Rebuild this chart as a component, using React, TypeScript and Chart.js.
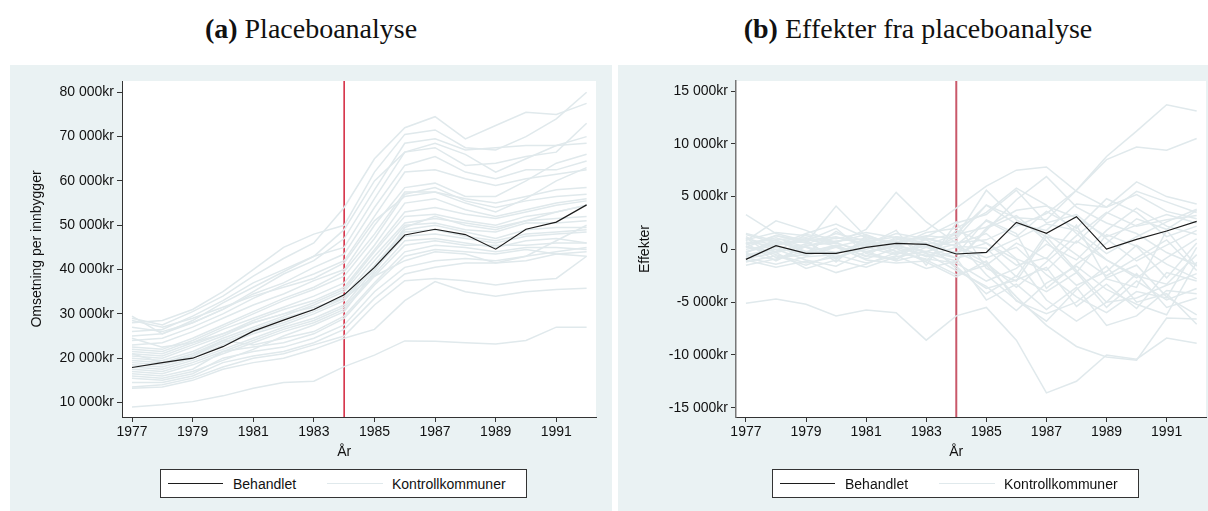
import React, { useEffect, useRef } from "react";
import { Chart, registerables } from "chart.js";

Chart.register(...registerables);

const FONT = '"Liberation Sans", Arial, Helvetica, sans-serif';

const years = [1977, 1978, 1979, 1980, 1981, 1982, 1983, 1984, 1985, 1986, 1987, 1988, 1989, 1990, 1991, 1992];
const xTicks = [1977, 1979, 1981, 1983, 1985, 1987, 1989, 1991];
const xTickLabels = ["1977", "1979", "1981", "1983", "1985", "1987", "1989", "1991"];
const treatmentYear = 1984;

const leftYTicks = [10000, 20000, 30000, 40000, 50000, 60000, 70000, 80000];
const leftYTickLabels = ["10 000kr", "20 000kr", "30 000kr", "40 000kr", "50 000kr", "60 000kr", "70 000kr", "80 000kr"];
const rightYTicks = [-15000, -10000, -5000, 0, 5000, 10000, 15000];
const rightYTickLabels = ["-15 000kr", "-10 000kr", "-5 000kr", "0", "5 000kr", "10 000kr", "15 000kr"];

const leftTreated = [17900, 19000, 20000, 22600, 26100, 28600, 31000, 34300, 40500, 47800, 49100, 47900, 44600, 49100, 50700, 54600];

const leftControls = [
  [29000, 27500, 30500, 34000, 38500, 42500, 46000, 54000, 65000, 72000, 74500, 69500, 72500, 75500, 75000, 77500],
  [28000, 28500, 31000, 35000, 40000, 45000, 48000, 50000, 62000, 70500, 71500, 67500, 67000, 70000, 74000, 80000],
  [27000, 26000, 28000, 31000, 35000, 39000, 42000, 47000, 58000, 68500, 69500, 67000, 67500, 68000, 68000, 68500],
  [26000, 26500, 29500, 33000, 37000, 40000, 43000, 45000, 56000, 66500, 67500, 63500, 64000, 65500, 66500, 73000],
  [25000, 25500, 28000, 31000, 34500, 37000, 40500, 43500, 54000, 63500, 65500, 62000, 60500, 62500, 62500, 64500],
  [24000, 24500, 27000, 30000, 33500, 36500, 39000, 42000, 52000, 62000, 62500, 60500, 59000, 60500, 61500, 62500],
  [23000, 23500, 26000, 29000, 32000, 34500, 37500, 40000, 50000, 58500, 59500, 56500, 56500, 60000, 64000, 66000],
  [22500, 22000, 24500, 27500, 30500, 33500, 36000, 39500, 48000, 57500, 57500, 56000, 55000, 56500, 58000, 58500],
  [22000, 21500, 24000, 27000, 30000, 33000, 35500, 38500, 47000, 57000, 58500, 55500, 54000, 55500, 56500, 57000],
  [21500, 21000, 23500, 26500, 29000, 31500, 34000, 37000, 45500, 55000, 56000, 53500, 52000, 53500, 55000, 56000],
  [21000, 20500, 23000, 25500, 28500, 31000, 33000, 36000, 44500, 53000, 54000, 52500, 51500, 53000, 54500, 55500],
  [20500, 20000, 22500, 25000, 28000, 30000, 32500, 35500, 44000, 52000, 52500, 51000, 50000, 52000, 53000, 54500],
  [20000, 19500, 21500, 24500, 27000, 29500, 32000, 35000, 43000, 50500, 51500, 50500, 49500, 51000, 51500, 52000],
  [19500, 19000, 21000, 24000, 26500, 29000, 31000, 34000, 42000, 50000, 50500, 49000, 48500, 50500, 50500, 51000],
  [19000, 18500, 20500, 23500, 26000, 28000, 30500, 33500, 41000, 49000, 50000, 48500, 47000, 49000, 49500, 49500],
  [18500, 18000, 20000, 23000, 25500, 27500, 30000, 33000, 40500, 48500, 49000, 47500, 46500, 48000, 48500, 49000],
  [18000, 17500, 19500, 22000, 24500, 27000, 29000, 32000, 40000, 47500, 48000, 47000, 46000, 47500, 48000, 48500],
  [17500, 17000, 19000, 21500, 24000, 26500, 28500, 31500, 39000, 46500, 47000, 46000, 45000, 46500, 47000, 46000],
  [17000, 16500, 18500, 21000, 23500, 26000, 28000, 31000, 38500, 45500, 46500, 45500, 45500, 45500, 46000, 46000],
  [21000, 19000, 20500, 24000, 23000, 24500, 26000, 29500, 37000, 44000, 45500, 45000, 44000, 45000, 45000, 44500],
  [16500, 16000, 17500, 21500, 22500, 23500, 25500, 29000, 36500, 43000, 44500, 44000, 43500, 44500, 43500, 43000],
  [15500, 15000, 16500, 20000, 21500, 22500, 24500, 27500, 35000, 40500, 42000, 42500, 42000, 43000, 44000, 45000],
  [14500, 14500, 16000, 19000, 20500, 21500, 23500, 26500, 33500, 39000, 40500, 41500, 41500, 42000, 43500, 44000],
  [13500, 14000, 15500, 18000, 20000, 21000, 23000, 25000, 32000, 37500, 38000, 37500, 36500, 37500, 38000, 43000],
  [13200, 13500, 15000, 17500, 19000, 20000, 22000, 24500, 26500, 33000, 37300, 35000, 34000, 35000, 35500, 35800],
  [9000, 9500, 10200, 11500, 13200, 14500, 14800, 18100, 20700, 23900, 23800, 23500, 23200, 24000, 27000, 27000],
  [29500, 25500, 28500, 32500, 36000, 39500, 43000, 49000, 60000, 66500, 68500, 66000, 62000, 65000, 68000, 70000],
  [28500, 27000, 29000, 31500, 34000, 36000, 38000, 41500, 51000, 56500, 57500, 55000, 53000, 56000, 60000, 63000],
  [24500, 22500, 23500, 25500, 28000, 30000, 31500, 33500, 38500, 42000, 44000, 43500, 41500, 43000, 46500, 50000],
  [16000, 15500, 17000, 19500, 22000, 25000, 27500, 30500, 39500, 49500, 52000, 50000, 49000, 51000, 53000, 54500],
];

const rightTreated = [-950, 350, -380, -380, 190, 570, 470, -440, -280, 2560, 1520, 3100, 30, 950, 1740, 2650];

const rightControls = [
  [-5100, -4700, -5200, -6300, -5750, -6000, -8600, -6300, -5500, -8600, -13600, -12500, -10000, -10400, -8400, -8900],
  [3300, 1500, 800, 1200, 400, 900, 1800, 3900, 6000, 7500, 7800, 5500, 4000, 5200, 3600, 2900],
  [800, 2700, 1800, 600, 1900, 5400, 2600, 600, 900, 2200, 3400, 5600, 8800, 11200, 13700, 13100],
  [400, 1300, 600, 4100, 1200, 300, 900, 1500, 4200, 3000, 2800, 5600, 8500, 9700, 9400, 10500],
  [-1200, -600, -1500, -400, 800, -200, -1000, -2400, -1500, -4500, -7200, -9200, -10200, -10500, -6500, -6600],
  [1000, 400, 1500, 2400, 1100, 600, 1200, 2600, -1800, -3000, 1200, -2000, -5000, -4600, -3400, -2300],
  [-300, 700, 200, -900, 300, 1000, 500, -1600, -4200, -2500, -4000, -2200, -5500, -3000, -4800, -3700],
  [600, 900, 1100, 600, -200, 400, -300, 1200, 5600, 2800, 1200, 600, 3400, 5500, 4500, 3500],
  [-800, -1400, -700, -500, -1300, -600, -1800, -1100, 1800, 4700, 6900, 4000, 2500, 1500, -300, -1500],
  [200, -200, 500, 1500, 800, 200, -600, 200, -1300, -3600, -1200, 1300, 3500, 2200, 2800, 3200],
  [1500, 800, -300, 400, -700, 1200, 900, -500, 2800, 1500, -3700, -1400, 600, 2900, 1900, 3700],
  [-500, 0, -1000, -1600, -200, -1100, -400, -2000, -3500, -5800, -3200, -1600, -3800, -5200, -6200, -1200],
  [900, 1600, 1300, 700, 1400, 300, 1600, 2000, 3500, 5800, 4200, 1500, -1000, -2500, -3300, -500],
  [-1500, -900, -200, 300, -600, -900, 200, -800, -300, 1000, 2400, 1800, -400, 1200, 2600, 3800],
  [300, -500, -1300, -700, 0, 800, 200, 800, -2400, -4800, -6800, -3800, -1600, -5000, -4200, -7100],
  [-200, 400, 900, -1200, 1300, 500, -700, -300, 600, -1500, -800, -3400, -2100, 400, -1400, -2800],
  [1200, -300, 300, 1100, 600, -400, 400, 1400, 2100, 3700, 4100, 3000, 1200, 2300, 3300, 2500],
  [-700, 200, -600, 200, -900, 100, -1200, -2600, -1100, -4900, -6100, -5000, -2700, -1500, -4500, -6200],
  [500, 1100, 200, -300, 500, 1500, 1000, 300, -800, 200, -2400, -4500, -6000, -4000, -4600, 200],
  [-1000, -1700, -1100, -2200, -1400, -300, -900, -1300, -3000, -1800, 500, -1000, 1800, 3900, 2200, 1400],
  [0, 500, 1000, 300, 900, 700, 1300, 1000, 4200, 2400, 1800, 4300, 4000, 6400, 5000, 4300],
  [700, 300, -400, 1700, 200, -500, 600, -1800, -3700, -2900, -1700, -5400, -3300, -5600, -2200, -3000],
  [-400, -1000, 400, 600, -300, 300, -200, 500, 1500, -900, -2000, 800, -1000, -2700, -800, 1000],
  [1400, 600, 700, -800, 400, 1800, -1500, 2500, 3300, 5600, 2500, 3300, 1000, -1100, 400, 1800],
  [-900, -300, -1800, -1000, -1700, -700, -200, -800, -4800, -3300, -5700, -3600, -7200, -6300, -3900, -4200],
  [200, 1300, 800, 2000, -400, -1000, 1100, 300, 100, -2600, 1500, -500, -2500, -800, 900, -2000],
  [-600, -200, 1400, 1000, 1600, 1100, -400, -1100, 2000, 3200, 800, -2200, 1400, 300, -2700, 600],
  [1100, -800, -500, 300, -1000, -1300, -1100, 1800, 600, -1000, -4800, -6800, -5000, -2300, -5500, -4600],
  [-300, 900, -200, -400, 700, 1200, 600, 400, 2700, 1200, 3600, 2000, 4800, 3500, 1200, 2200],
  [600, -1100, 300, 800, 1000, -200, 300, -300, -1500, 600, -900, 2300, -2800, -3600, 1800, -1600],
];

const CONTROL_COLOR = "#e0e9ec";
const TREATED_COLOR = "#1c1c1c";

const panelPlugin = {
  id: "panel",
  beforeDraw(chart: any, _args: any, opts: any) {
    const { ctx, chartArea: a, width, height } = chart;
    ctx.save();
    ctx.fillStyle = "#eaf2f3";
    ctx.fillRect(0, 0, width, height);
    ctx.fillStyle = "#ffffff";
    ctx.fillRect(a.left, a.top, a.right - a.left, a.bottom - a.top);
    ctx.restore();
  },
  beforeDatasetsDraw(chart: any, _args: any, opts: any) {
    const { ctx, chartArea: a } = chart;
    const x = chart.scales.x.getPixelForValue(opts.eventX);
    ctx.save();
    ctx.strokeStyle = opts.eventColor;
    ctx.lineWidth = opts.eventWidth;
    ctx.beginPath();
    ctx.moveTo(x, a.top);
    ctx.lineTo(x, a.bottom);
    ctx.stroke();
    ctx.restore();
  },
  afterDraw(chart: any, _args: any, opts: any) {
    const { ctx, chartArea: a } = chart;
    ctx.save();
    ctx.font = `14px ${FONT}`;
    ctx.fillStyle = "#111";
    ctx.textAlign = "center";
    ctx.textBaseline = "middle";
    ctx.fillText(opts.xTitle, chart.scales.x.getPixelForValue(opts.xTitleAt), opts.xTitleY);
    ctx.translate(opts.yTitleX, (a.top + a.bottom) / 2);
    ctx.rotate(-Math.PI / 2);
    ctx.fillText(opts.yTitle, 0, 0);
    ctx.restore();
  },
};

type PanelProps = {
  width: number;
  height: number;
  treated: number[];
  controls: number[][];
  yMin: number;
  yMax: number;
  yTicks: number[];
  yTickLabels: string[];
  yTitle: string;
  yAxisWidth: number;
  padRight: number;
  yBorderColor: string;
  yBorderWidth: number;
  eventColor: string;
  eventWidth: number;
};

function Panel(p: PanelProps) {
  const ref = useRef<HTMLCanvasElement | null>(null);
  useEffect(() => {
    if (!ref.current) return;
    const pts = (s: number[]) => s.map((v, i) => ({ x: years[i], y: v }));
    const datasets: any[] = [
      {
        label: "Behandlet",
        data: pts(p.treated),
        borderColor: TREATED_COLOR,
        backgroundColor: TREATED_COLOR,
        borderWidth: 1.2,
        pointRadius: 0,
        tension: 0,
      },
      ...p.controls.map((c) => ({
        label: "Kontrollkommuner",
        data: pts(c),
        borderColor: CONTROL_COLOR,
        backgroundColor: CONTROL_COLOR,
        borderWidth: 1.5,
        pointRadius: 0,
        tension: 0,
      })),
    ];
    const chart = new Chart(ref.current, {
      type: "line",
      data: { datasets },
      plugins: [panelPlugin as any],
      options: {
        animation: false,
        responsive: false,
        devicePixelRatio: 1,
        layout: { padding: { top: 16, right: p.padRight, bottom: 0, left: 0 } },
        plugins: {
          legend: { display: false },
          tooltip: { enabled: false },
          panel: {
            eventX: treatmentYear,
            eventColor: p.eventColor,
            eventWidth: p.eventWidth,
            xTitle: "År",
            xTitleAt: treatmentYear,
            xTitleY: 387,
            yTitle: p.yTitle,
            yTitleX: 27,
          },
        } as any,
        scales: {
          x: {
            type: "linear",
            min: 1976.67,
            max: 1992.31,
            afterBuildTicks: (s: any) => {
              s.ticks = xTicks.map((v) => ({ value: v }));
            },
            afterFit: (s: any) => {
              s.height = 94;
            },
            ticks: {
              autoSkip: false,
              maxRotation: 0,
              minRotation: 0,
              padding: 2,
              color: "#111",
              font: { size: 14, family: FONT },
              callback: (_v: any, i: number) => xTickLabels[i],
            },
            grid: { drawOnChartArea: false, drawTicks: true, tickLength: 5, color: "#333", tickWidth: 1 },
            border: { display: true, color: "#333", width: 1 },
          },
          y: {
            type: "linear",
            min: p.yMin,
            max: p.yMax,
            afterBuildTicks: (s: any) => {
              s.ticks = p.yTicks.map((v) => ({ value: v }));
            },
            afterFit: (s: any) => {
              s.width = p.yAxisWidth;
            },
            ticks: {
              autoSkip: false,
              padding: 3,
              color: "#111",
              font: { size: 14, family: FONT },
              callback: (_v: any, i: number) => p.yTickLabels[i],
            },
            grid: { drawOnChartArea: false, drawTicks: true, tickLength: 5, color: "#333", tickWidth: 1 },
            border: { display: true, color: p.yBorderColor, width: p.yBorderWidth },
          },
        },
      } as any,
    });
    return () => chart.destroy();
  }, []);
  return <canvas ref={ref} width={p.width} height={p.height} style={{ display: "block", width: p.width, height: p.height }} />;
}

function Legend({ left }: { left: number }) {
  const text: React.CSSProperties = {
    position: "absolute",
    top: 0,
    height: 27,
    lineHeight: "28px",
    fontFamily: FONT,
    fontSize: 14,
    color: "#111",
    whiteSpace: "nowrap",
  };
  return (
    <div
      style={{
        position: "absolute",
        left,
        top: 469,
        width: 367,
        height: 29,
        boxSizing: "border-box",
        border: "1px solid #333",
        background: "#fff",
      }}
    >
      <div style={{ position: "absolute", left: 6.5, top: 13, width: 55, borderTop: `1px solid ${TREATED_COLOR}` }} />
      <div style={{ ...text, left: 72 }}>Behandlet</div>
      <div style={{ position: "absolute", left: 165.5, top: 13, width: 56, borderTop: `1.5px solid ${CONTROL_COLOR}` }} />
      <div style={{ ...text, left: 231 }}>Kontrollkommuner</div>
    </div>
  );
}

const titleStyle: React.CSSProperties = {
  position: "absolute",
  top: 12,
  height: 34,
  lineHeight: "34px",
  textAlign: "center",
  fontFamily: '"Liberation Serif", "Times New Roman", serif',
  fontSize: 28,
  color: "#111",
  whiteSpace: "nowrap",
};

export default function App() {
  return (
    <div style={{ position: "absolute", left: 0, top: 0, width: 1208, height: 511, background: "#fff", overflow: "hidden" }}>
      <div style={{ ...titleStyle, left: 10, width: 602 }}>
        <span style={{ fontWeight: "bold" }}>(a)</span> Placeboanalyse
      </div>
      <div style={{ ...titleStyle, left: 618, width: 600 }}>
        <span style={{ fontWeight: "bold" }}>(b)</span> Effekter fra placeboanalyse
      </div>
      <div style={{ position: "absolute", left: 10, top: 65 }}>
        <Panel
          width={602}
          height={446}
          treated={leftTreated}
          controls={leftControls}
          yMin={6730}
          yMax={82550}
          yTicks={leftYTicks}
          yTickLabels={leftYTickLabels}
          yTitle="Omsetning per innbygger"
          yAxisWidth={112}
          padRight={16}
          yBorderColor="#333"
          yBorderWidth={1}
          eventColor="#d3223a"
          eventWidth={1.5}
        />
      </div>
      <div style={{ position: "absolute", left: 618, top: 65 }}>
        <Panel
          width={590}
          height={446}
          treated={rightTreated}
          controls={rightControls}
          yMin={-15880}
          yMax={15950}
          yTicks={rightYTicks}
          yTickLabels={rightYTickLabels}
          yTitle="Effekter"
          yAxisWidth={118}
          padRight={2}
          yBorderColor="#777"
          yBorderWidth={1.5}
          eventColor="#c9596a"
          eventWidth={2}
        />
      </div>
      <Legend left={160} />
      <Legend left={772} />
    </div>
  );
}
